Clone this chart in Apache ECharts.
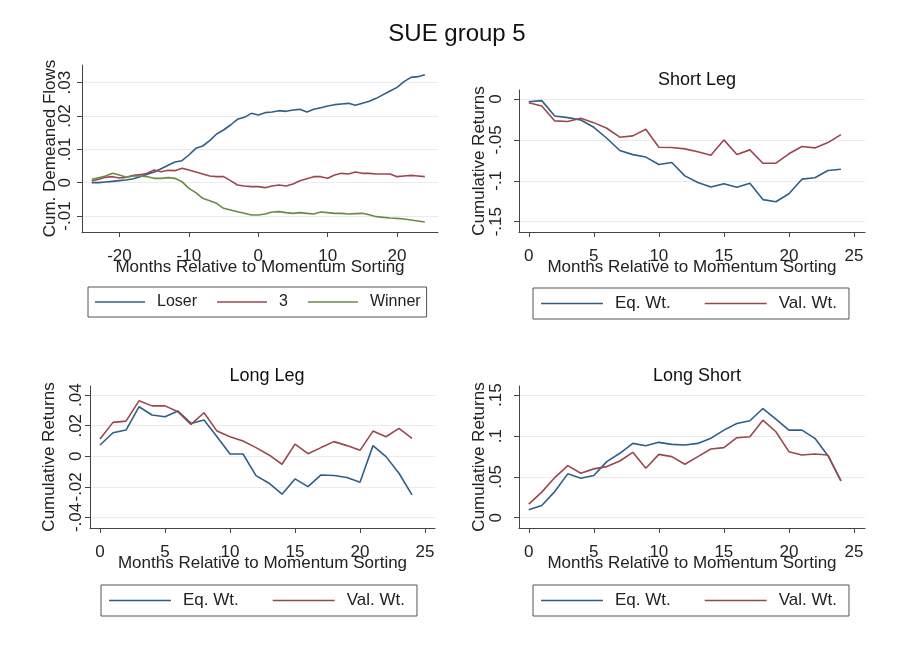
<!DOCTYPE html>
<html>
<head>
<meta charset="utf-8">
<script src="https://cdn.jsdelivr.net/npm/echarts@6/dist/echarts.min.js"></script>
<style>
  html, body { margin: 0; padding: 0; background: #fff; }
  #chart { width: 898px; height: 647px; }
</style>
</head>
<body>
<div id="chart"></div>
<script>
// months relative to sorting (flows panel)
var flowMonths = [-24, -23, -22, -21, -20, -19, -18, -17, -16, -15, -14, -13, -12, -11, -10, -9, -8, -7, -6, -5, -4, -3, -2, -1,
  0, 1, 2, 3, 4, 5, 6, 7, 8, 9, 10, 11, 12, 13, 14, 15, 16, 17, 18, 19, 20, 21, 22, 23, 24]
var loserFlows = [0.0, 0.0, 0.0002, 0.0004, 0.0006, 0.0008, 0.0012, 0.0018, 0.0025, 0.0032, 0.0042, 0.0052, 0.0062, 0.0066,
  0.0083, 0.0103, 0.011, 0.0126, 0.0146, 0.0158, 0.0173, 0.019, 0.0196, 0.0208,
  0.0203, 0.021, 0.0212, 0.0216, 0.0214, 0.0218, 0.022, 0.0212, 0.022, 0.0225, 0.023, 0.0234, 0.0236, 0.0238, 0.0232,
  0.0238, 0.0244, 0.0253, 0.0264, 0.0275, 0.0286, 0.0303, 0.0316, 0.0318, 0.0324]
var midFlows = [0.0005, 0.001, 0.0016, 0.0018, 0.0014, 0.0016, 0.0022, 0.0024, 0.0028, 0.0038, 0.0033, 0.0037, 0.0036, 0.0043,
  0.0038, 0.0032, 0.0026, 0.002, 0.0018, 0.0018, 0.0006, -0.0007, -0.001, -0.0012,
  -0.0012, -0.0015, -0.001, -0.0007, -0.001, -0.0004, 0.0006, 0.0012, 0.0018, 0.0018, 0.0013, 0.0023, 0.0028, 0.0026, 0.0032,
  0.0028, 0.0028, 0.0026, 0.0026, 0.0026, 0.0018, 0.002, 0.0022, 0.002, 0.0018]
var winnerFlows = [0.001, 0.0015, 0.002, 0.0028, 0.0023, 0.0016, 0.002, 0.002, 0.0018, 0.0013, 0.0013, 0.0015, 0.0013, 0.0003,
  -0.0017, -0.003, -0.0047, -0.0054, -0.0062, -0.0077, -0.0082, -0.0087, -0.0092, -0.0097,
  -0.0097, -0.0094, -0.0088, -0.0087, -0.009, -0.0092, -0.009, -0.0092, -0.0094, -0.0088, -0.009, -0.0092, -0.0092, -0.0094, -0.0093,
  -0.0092, -0.0096, -0.0102, -0.0104, -0.0106, -0.0107, -0.0109, -0.0112, -0.0115, -0.0118]

// months after sorting (return panels)
var retMonths = [0, 1, 2, 3, 4, 5, 6, 7, 8, 9, 10, 11, 12, 13, 14, 15, 16, 17, 18, 19, 20, 21, 22, 23, 24]
var shortEq = [-0.0033, -0.002, -0.0207, -0.0228, -0.0256, -0.0346, -0.048, -0.063, -0.068, -0.071, -0.08, -0.0776, -0.094,
  -0.102, -0.1077, -0.1037, -0.108, -0.103, -0.123, -0.1256, -0.1159, -0.098, -0.0963, -0.0874, -0.0858]
var shortVal = [-0.0045, -0.0085, -0.0268, -0.0276, -0.0236, -0.0289, -0.0358, -0.0467, -0.0451, -0.037, -0.059, -0.0593, -0.061,
  -0.0646, -0.0687, -0.05, -0.0679, -0.0622, -0.0785, -0.0785, -0.067, -0.0581, -0.0598, -0.0533, -0.0435]
var longEq = [0.0074, 0.0154, 0.0172, 0.0324, 0.027, 0.0259, 0.0296, 0.0215, 0.0237, 0.0128, 0.0015, 0.0015, -0.0126,
  -0.0176, -0.0248, -0.0148, -0.0198, -0.0122, -0.0126, -0.0139, -0.017, 0.007, -0.0002, -0.0111, -0.0252]
var longVal = [0.0113, 0.0222, 0.023, 0.0363, 0.033, 0.033, 0.0291, 0.0209, 0.0285, 0.0165, 0.0128, 0.01, 0.0057,
  0.0009, -0.0052, 0.008, 0.0017, 0.0057, 0.0096, 0.007, 0.0039, 0.0165, 0.0128, 0.0183, 0.0117]
var lsEq = [0.0098, 0.015, 0.032, 0.0537, 0.0484, 0.0516, 0.0687, 0.0789, 0.091, 0.0882, 0.0923, 0.0898, 0.089,
  0.091, 0.0972, 0.1073, 0.1154, 0.1187, 0.1337, 0.1207, 0.1073, 0.1073, 0.0972, 0.076, 0.0451]
var lsVal = [0.0167, 0.0313, 0.0492, 0.0638, 0.0545, 0.0598, 0.0626, 0.0695, 0.0801, 0.0606, 0.0776, 0.0748, 0.0654,
  0.0748, 0.0841, 0.0858, 0.098, 0.0992, 0.1195, 0.1053, 0.0809, 0.0768, 0.078, 0.0768, 0.0451]

// tick labels
var flowXTicks = [-20, -10, 0, 10, 20]
var retXTicks = [0, 5, 10, 15, 20, 25]
var flowYTicks = [-0.01, 0, 0.01, 0.02, 0.03]
var shortYTicks = [-0.15, -0.1, -0.05, 0]
var longYTicks = [-0.04, -0.02, 0, 0.02, 0.04]
var lsYTicks = [0, 0.05, 0.1, 0.15]

var FONT = '"Liberation Sans", Arial, sans-serif'
var BLUE = '#2f5f86'
var RED = '#9a4750'
var GREEN = '#6b8a45'

function zip(xs, ys) {
  return xs.map(function (x, i) { return [x, ys[i]] })
}

// stata style number: .02, -.01
function stataFmt(v) {
  var s = String(+Number(v).toFixed(4))
  return s.replace(/^0\./, '.').replace(/^-0\./, '-.')
}

function xAxisOf(idx, min, max, ticks) {
  return {
    type: 'value', gridIndex: idx, min: min, max: max,
    name: 'Months Relative to Momentum Sorting', nameLocation: 'middle', nameGap: 27,
    nameMoveOverlap: false,
    nameTextStyle: { fontFamily: FONT, fontSize: 17, color: '#222' },
    axisLine: { onZero: false, lineStyle: { color: '#444', width: 1 } },
    axisTick: { customValues: ticks, length: 5, lineStyle: { color: '#444' } },
    axisLabel: { customValues: ticks, fontFamily: FONT, fontSize: 17, color: '#222', margin: 16 },
    splitLine: { show: false }
  }
}

function yAxisOf(idx, min, max, ticks, name, nameGap, margin) {
  return {
    type: 'value', gridIndex: idx, min: min, max: max,
    name: name, nameLocation: 'middle', nameGap: nameGap,
    nameMoveOverlap: false,
    nameTextStyle: { fontFamily: FONT, fontSize: 17, color: '#222' },
    axisLine: { show: true, onZero: false, lineStyle: { color: '#444', width: 1 } },
    axisTick: { show: true, customValues: ticks, length: 5, lineStyle: { color: '#444' } },
    axisLabel: {
      customValues: ticks, rotate: 90, fontFamily: FONT, fontSize: 17, color: '#222', margin: margin,
      formatter: stataFmt
    },
    splitLine: { show: true, lineStyle: { color: '#e8ecee', width: 1 } }
  }
}

function lineSeries(name, idx, data, color) {
  return {
    type: 'line', name: name, xAxisIndex: idx, yAxisIndex: idx,
    data: data, symbol: 'none', smooth: false,
    lineStyle: { color: color, width: 1.6 }, itemStyle: { color: color }
  }
}

function legendOf(left, top, items, itemW, gap, pad, fs) {
  return {
    left: left, top: top, orient: 'horizontal', data: items,
    icon: 'rect', itemWidth: itemW, itemHeight: 1.6, itemGap: gap,
    borderColor: '#555', borderWidth: 1, padding: pad, borderRadius: 0,
    textStyle: { fontFamily: FONT, fontSize: fs, color: '#222', padding: [0, 0, 0, 7] }
  }
}

const chartBox = echarts.init(document.getElementById('chart'))

const option = {
  backgroundColor: '#ffffff',
  animation: false,
  title: [
    { text: 'SUE group 5', left: 452, top: 17, textAlign: 'center',
      textStyle: { fontFamily: FONT, fontSize: 24, fontWeight: 'normal', color: '#111' } },
    { text: 'Short Leg', left: 692, top: 66, textAlign: 'center',
      textStyle: { fontFamily: FONT, fontSize: 18, fontWeight: 'normal', color: '#111' } },
    { text: 'Long Leg', left: 262, top: 362, textAlign: 'center',
      textStyle: { fontFamily: FONT, fontSize: 18, fontWeight: 'normal', color: '#111' } },
    { text: 'Long Short', left: 692, top: 362, textAlign: 'center',
      textStyle: { fontFamily: FONT, fontSize: 18, fontWeight: 'normal', color: '#111' } }
  ],
  grid: [
    { left: 82, top: 65, width: 356, height: 167 },
    { left: 519, top: 90, width: 346, height: 142 },
    { left: 90, top: 386, width: 345, height: 142 },
    { left: 519, top: 386, width: 346, height: 142 }
  ],
  xAxis: [
    xAxisOf(0, -25.4, 25.9, flowXTicks),
    xAxisOf(1, -0.75, 25.85, retXTicks),
    xAxisOf(2, -0.77, 25.77, retXTicks),
    xAxisOf(3, -0.75, 25.85, retXTicks)
  ],
  yAxis: [
    yAxisOf(0, -0.0148, 0.0353, flowYTicks, 'Cum. Demeaned Flows', 23, 8),
    yAxisOf(1, -0.1626, 0.011, shortYTicks, 'Cumulative Returns', 31, 14),
    yAxisOf(2, -0.0469, 0.046, longYTicks, 'Cumulative Returns', 32, 5),
    yAxisOf(3, -0.0126, 0.1613, lsYTicks, 'Cumulative Returns', 31, 14)
  ],
  legend: [
    legendOf(88, 287, ['Loser', '3', 'Winner'], 50, 20, [7, 6, 7, 7], 16),
    legendOf(533, 288, ['Eq. Wt.', 'Val. Wt.'], 62, 34, [7, 12, 7, 8], 17),
    legendOf(101, 585, ['Eq. Wt.', 'Val. Wt.'], 62, 34, [7, 12, 7, 8], 17),
    legendOf(533, 585, ['Eq. Wt.', 'Val. Wt.'], 62, 34, [7, 12, 7, 8], 17)
  ],
  series: [
    lineSeries('Loser', 0, zip(flowMonths, loserFlows), BLUE),
    lineSeries('3', 0, zip(flowMonths, midFlows), RED),
    lineSeries('Winner', 0, zip(flowMonths, winnerFlows), GREEN),
    lineSeries('Eq. Wt.', 1, zip(retMonths, shortEq), BLUE),
    lineSeries('Val. Wt.', 1, zip(retMonths, shortVal), RED),
    lineSeries('Eq. Wt.', 2, zip(retMonths, longEq), BLUE),
    lineSeries('Val. Wt.', 2, zip(retMonths, longVal), RED),
    lineSeries('Eq. Wt.', 3, zip(retMonths, lsEq), BLUE),
    lineSeries('Val. Wt.', 3, zip(retMonths, lsVal), RED)
  ]
}

chartBox.setOption(option, true)
</script>
</body>
</html>
